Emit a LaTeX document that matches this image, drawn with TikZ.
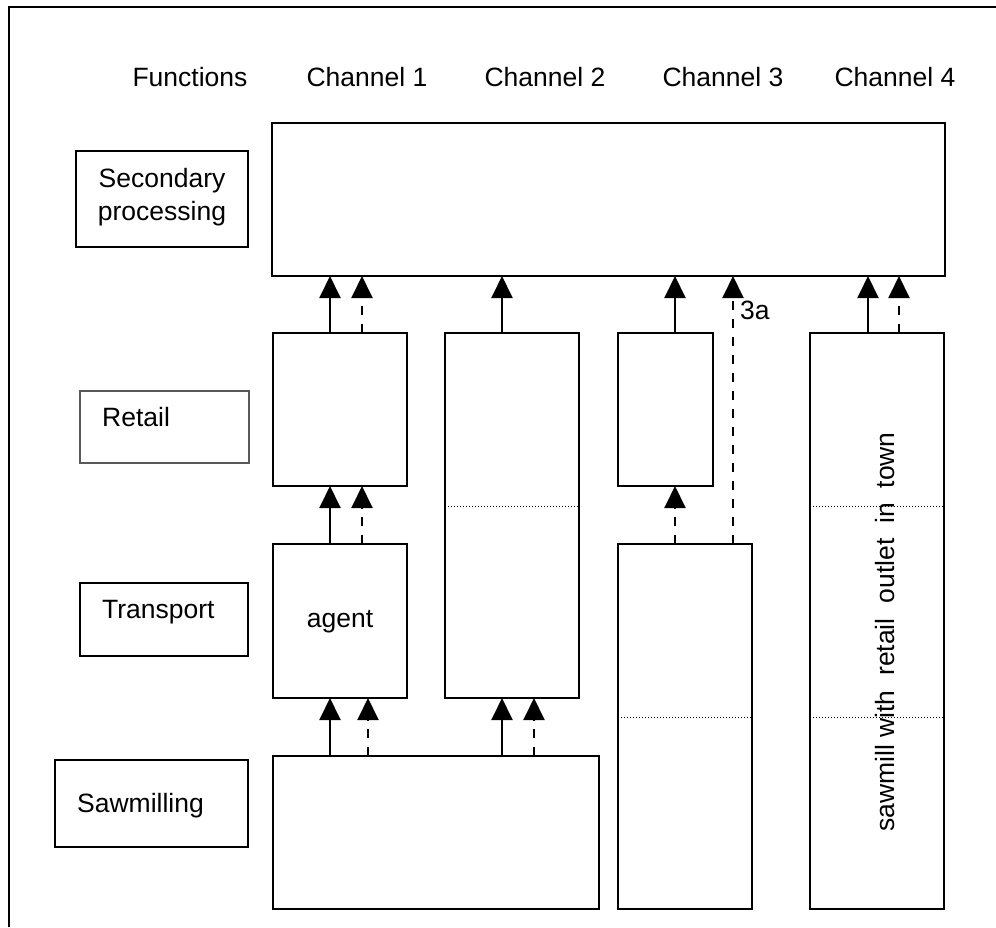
\documentclass[tikz,border=0pt]{standalone}
\usepackage{fontspec}
\setmainfont{Liberation Sans}
\usetikzlibrary{arrows.meta}
\tikzset{
  box/.style={draw=black, line width=1.6pt, anchor=north west, inner sep=0pt, outer sep=0pt},
  lbox/.style={draw=black, line width=1.3pt, anchor=north west, inner sep=0pt, outer sep=0pt},
  txt/.style={font=\fontsize{26.5}{31}\selectfont, inner sep=0pt},
  solidarrow/.style={line width=2pt, -{Triangle[width=21pt,length=22pt]}},
  dasharrow/.style={line width=2pt, dash pattern=on 9pt off 9pt, -{Triangle[width=21pt,length=22pt]}},
  divider/.style={line width=0.9pt, dash pattern=on 1pt off 2pt},
  frame/.style={line width=1.5pt}
}
\begin{document}
\begin{tikzpicture}[x=1pt,y=-1pt]
\useasboundingbox (0,0) rectangle (996,927);
% outer frame (top and left edges visible)
\coordinate (fTL) at (9,7);
\coordinate (fTR) at (996,7);
\coordinate (fBL) at (9,927);
\draw[frame] (fTR) -- (fTL) -- (fBL);

% headers
\node[txt, anchor=base] (hF) at (190,86) {Functions};
\node[txt, anchor=base] (h1) at (367,86) {Channel 1};
\node[txt, anchor=base] (h2) at (545,86) {Channel 2};
\node[txt, anchor=base] (h3) at (723,86) {Channel 3};
\node[txt, anchor=base] (h4) at (895,86) {Channel 4};

% function label boxes
\node[lbox, minimum width=172pt, minimum height=96pt] (secL) at (76,151) {};
\node[txt, anchor=base] (secT1) at (162,187) {Secondary};
\node[txt, anchor=base] (secT2) at (162,220) {processing};

\node[lbox, draw=black!65, minimum width=169pt, minimum height=72pt] (retL) at (80,391) {};
\node[txt, anchor=base west] (retT) at (102,426) {Retail};

\node[lbox, minimum width=168pt, minimum height=73pt] (traL) at (80,583) {};
\node[txt, anchor=base west] (traT) at (102,618) {Transport};

\node[lbox, minimum width=193pt, minimum height=87pt] (sawL) at (55,760) {};
\node[txt, anchor=base west] (sawT) at (77,812) {Sawmilling};

% main boxes
\node[box, minimum width=673pt, minimum height=153pt] (top) at (272,123) {};
\node[box, minimum width=134pt, minimum height=153pt] (r1) at (273,333) {};
\node[box, minimum width=134pt, minimum height=365pt] (r2) at (445,333) {};
\node[box, minimum width=95pt, minimum height=153pt] (r3) at (618,333) {};
\node[box, minimum width=134pt, minimum height=576pt] (c4) at (810,333) {};
\node[box, minimum width=134pt, minimum height=154pt] (t1) at (273,544) {};
\node[txt, anchor=base] (agentT) at (340,627) {agent};
\node[box, minimum width=134pt, minimum height=365pt] (c3) at (618,544) {};
\node[box, minimum width=326pt, minimum height=153pt] (saw) at (273,756) {};

% dotted dividers
\draw[divider] (r2.west |- 0,506) -- (r2.east |- 0,506);
\draw[divider] (c4.west |- 0,506) -- (c4.east |- 0,506);
\draw[divider] (c4.west |- 0,717) -- (c4.east |- 0,717);
\draw[divider] (c3.west |- 0,717) -- (c3.east |- 0,717);

% vertical text channel 4
\node[txt, rotate=90] (c4T) at (885,632) {sawmill with\hspace{0.56em}retail\hspace{0.56em}outlet\hspace{0.56em}in\hspace{0.56em}town};

% arrows to secondary processing
\draw[solidarrow] (330,0 |- r1.north) -- (330,0 |- top.south);
\draw[dasharrow] (362,0 |- r1.north) -- (362,0 |- top.south);
\draw[solidarrow] (502,0 |- r2.north) -- (502,0 |- top.south);
\draw[solidarrow] (675,0 |- r3.north) -- (675,0 |- top.south);
\draw[dasharrow] (733,0 |- c3.north) -- (733,0 |- top.south);
\node[txt, anchor=base west] (lab3a) at (740,319) {3a};
\draw[solidarrow] (868,0 |- c4.north) -- (868,0 |- top.south);
\draw[dasharrow] (899,0 |- c4.north) -- (899,0 |- top.south);

% transport to retail
\draw[solidarrow] (330,0 |- t1.north) -- (330,0 |- r1.south);
\draw[dasharrow] (362,0 |- t1.north) -- (362,0 |- r1.south);
\draw[dasharrow] (675,0 |- c3.north) -- (675,0 |- r3.south);

% sawmilling to transport
\draw[solidarrow] (330,0 |- saw.north) -- (330,0 |- t1.south);
\draw[dasharrow] (368,0 |- saw.north) -- (368,0 |- t1.south);
\draw[solidarrow] (502,0 |- saw.north) -- (502,0 |- r2.south);
\draw[dasharrow] (534,0 |- saw.north) -- (534,0 |- r2.south);
\end{tikzpicture}
\end{document}
